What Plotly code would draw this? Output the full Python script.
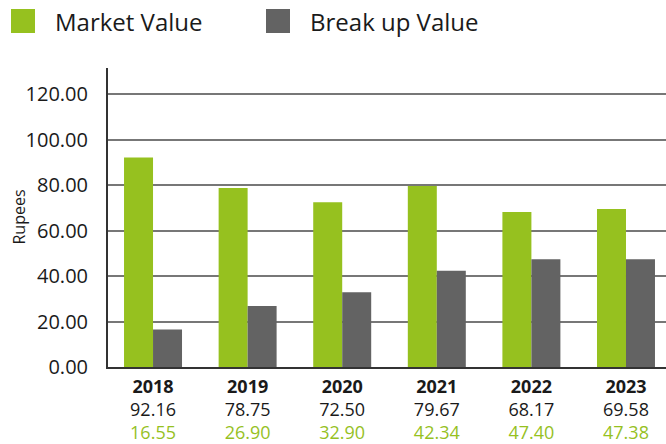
import plotly.graph_objects as go

years = ["2018", "2019", "2020", "2021", "2022", "2023"]
market_value = [92.16, 78.75, 72.50, 79.67, 68.17, 69.58]
breakup_value = [16.55, 26.90, 32.90, 42.34, 47.40, 47.38]
y_ticks = [0, 20, 40, 60, 80, 100, 120]

GREEN = "#96c11f"
GREY = "#636363"
FONT = "Open Sans"

tick_text = [
    f"<b>{y}</b><br>{m:.2f}<br><span style='color:{GREEN}'>{b:.2f}</span>"
    for y, m, b in zip(years, market_value, breakup_value)
]

fig = go.Figure()
fig.add_bar(x=years, y=market_value, name="Market Value", marker_color=GREEN,
            marker_line_width=0)
fig.add_bar(x=years, y=breakup_value, name="Break up Value", marker_color=GREY,
            marker_line_width=0)

fig.update_layout(
    width=666, height=444,
    margin=dict(l=108, r=0, t=68, b=77, autoexpand=False),
    paper_bgcolor="white", plot_bgcolor="white",
    barmode="group", bargap=0.387, bargroupgap=0,
    showlegend=False,
    font=dict(family=FONT, color="#1a1a1a"),
)
fig.update_xaxes(
    type="category", range=[-0.476, 5.423], automargin=False,
    tickvals=years, ticktext=tick_text,
    tickfont=dict(size=18, color="#1a1a1a"),
    showline=True, linecolor="#333333", linewidth=2,
    showgrid=False, ticks="", ticklabelstandoff=2,
)
fig.update_yaxes(
    range=[0, 131.6], automargin=False,
    tickvals=y_ticks, ticktext=[f"{v:.2f}" for v in y_ticks],
    tickfont=dict(size=20, color="#1a1a1a"),
    showline=True, linecolor="#333333", linewidth=2,
    showgrid=True, gridcolor="#777777", gridwidth=1.5,
    zeroline=False, ticks="", ticklabelstandoff=14,
)

# y-axis title
fig.add_annotation(text="Rupees", xref="paper", yref="paper",
                   x=(18 - 108) / 558, y=0.5, textangle=-90,
                   xanchor="center", yanchor="middle", showarrow=False,
                   font=dict(size=16, color="#1a1a1a", family=FONT))

# legend drawn in paper space
legend_items = [("Market Value", GREEN, 11), ("Break up Value", GREY, 266)]
for label, color, x0 in legend_items:
    fig.add_shape(type="rect", xref="paper", yref="paper",
                  x0=(x0 - 108) / 558, x1=(x0 + 24 - 108) / 558,
                  y0=(367 - 33) / 299, y1=(367 - 9) / 299,
                  fillcolor=color, line_width=0)
    fig.add_annotation(text=label, xref="paper", yref="paper",
                       x=(x0 + 42 - 108) / 558, y=(367 - 21) / 299,
                       xanchor="left", yanchor="middle", showarrow=False,
                       font=dict(size=24, color="#1a1a1a", family=FONT))

fig.write_html("out.html", config={"displayModeBar": False},
               post_script="document.body.style.margin='0';document.body.style.overflow='hidden';")
